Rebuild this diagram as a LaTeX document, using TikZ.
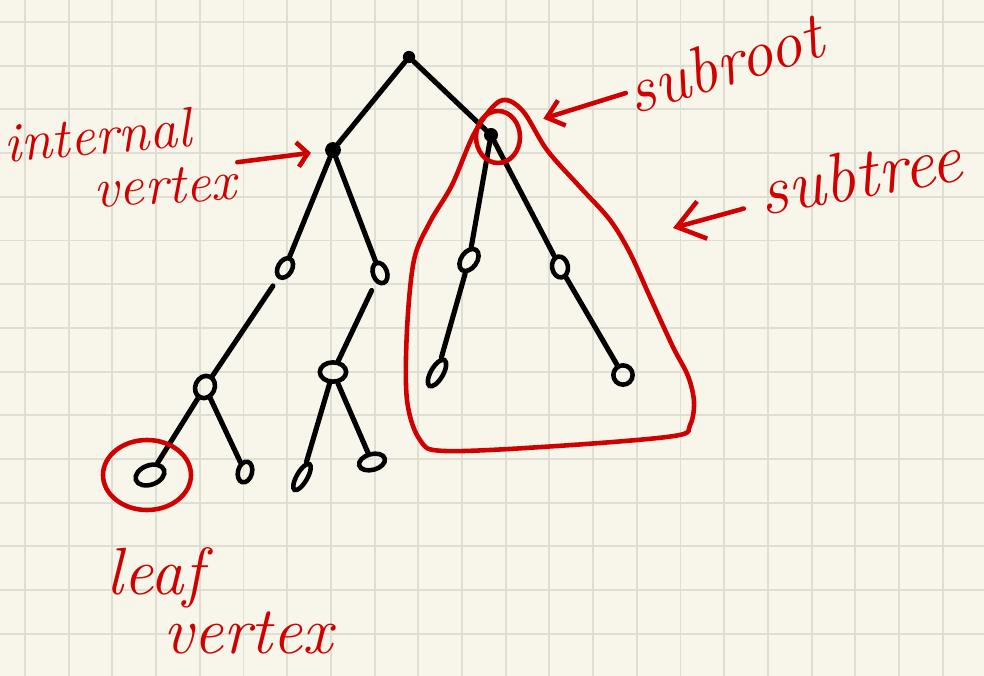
\documentclass[tikz,border=0pt]{standalone}
\usepackage{tikz}
\usetikzlibrary{arrows.meta,shapes.geometric}
\definecolor{paper}{RGB}{248,246,234}
\definecolor{gridc}{RGB}{223,222,210}
\definecolor{pen}{RGB}{208,0,0}
\tikzstyle{inkdot} = [circle, fill=black, inner sep=0pt, minimum size=7pt]
\tikzstyle{loopv} = [ellipse, draw=black, line width=2.6pt, inner sep=0pt,
    minimum width=8pt, minimum height=12pt]
\tikzstyle{ink} = [draw=black, line width=2.9pt, line cap=round]
\tikzstyle{redpen} = [draw=pen, line width=2.6pt, line cap=round, line join=round]
\tikzstyle{note} = [text=pen, inner sep=1pt, font=\fontsize{38}{40}\selectfont\itshape]
\begin{document}
\begin{tikzpicture}[x=0.02cm,y=-0.02cm,>={Straight Barb[length=9pt,width=15pt]}]
  \fill[paper] (0,0) rectangle (984,676);
  \useasboundingbox (0,0) rectangle (984,676);
  \foreach \k in {0,...,21} \draw[gridc, line width=1.1pt] ({25+43.7*\k},0) -- ({25+43.7*\k},676);
  \foreach \k in {0,...,14} \draw[gridc, line width=1.1pt] (0,{22+43.7*\k}) -- (984,{22+43.7*\k});

  % vertices
  \node[inkdot]                    (root) at (409,57)  {};
  \node[inkdot, minimum size=9pt]  (intv) at (333,150) {};
  \node[inkdot, minimum size=8pt]  (subr) at (491,135) {};
  \node[loopv, rotate=-30]         (a1)   at (285,268) {};
  \node[loopv, rotate=20]          (a2)   at (380,273) {};
  \node[loopv, minimum width=11pt, minimum height=13pt, rotate=-25] (c) at (205,387) {};
  \node[loopv, minimum width=15pt, minimum height=11pt] (d) at (333,372) {};
  \node[loopv, minimum width=17pt, minimum height=11pt, rotate=20]  (e) at (150,475) {};
  \node[loopv, rotate=-15]         (f)    at (245,472) {};
  \node[loopv, minimum width=6pt, minimum height=17pt, rotate=-30]  (g) at (302,477) {};
  \node[loopv, minimum width=15pt, minimum height=9pt, rotate=15]   (h) at (372,462) {};
  \node[loopv, minimum width=9pt, minimum height=14pt, rotate=-35]  (b1) at (469,260) {};
  \node[loopv, minimum width=9pt, rotate=10] (b2) at (560,267) {};
  \node[loopv, minimum width=7pt, minimum height=17pt, rotate=-30]  (b1l) at (437,373) {};
  \node[loopv, minimum width=11pt, minimum height=11pt] (b2l) at (623,375) {};

  \path[ink] (root) edge (intv)
             (root) edge (subr)
             (intv) edge (a1)
             (intv) edge (a2)
             (a1) edge[shorten <=5pt] (c)
             (a2) edge[shorten <=5pt] (d)
             (c) edge (e)
             (c) edge (f)
             (d) edge (g)
             (d) edge (h)
             (subr) edge (b1)
             (subr) edge (b2)
             (b1) edge (b1l)
             (b2) edge (b2l);

  % red notes
  \draw[redpen] ([shift={(7,2)}]subr) ellipse [x radius=22, y radius=26];
  \draw[redpen] ([shift={(-3,0)}]e) ellipse [x radius=44, y radius=35];
  \draw[redpen] plot[smooth cycle, tension=0.55] coordinates {(500,101) (522,110) (547,150)
      (580,187) (610,220) (630,253) (650,297) (673,347) (688,376) (694,402) (690,425)
      (674,436) (557,446) (445,451) (420,440) (407,400) (407,330) (414,260) (430,222)
      (452,185) (475,132)};

  \node[note, rotate=5, font=\fontsize{32}{34}\selectfont\itshape] (intl) at (97,135) {internal};
  \node[note, rotate=3, font=\fontsize{32}{34}\selectfont\itshape] (intvl) at (165,186) {vertex};
  \node[note, rotate=17] (srl) at (724,63) {subroot};
  \node[note, rotate=10, font=\fontsize{40}{42}\selectfont\itshape] (stl) at (860,174) {subtree};
  \node[note] (leafl) at (155,578) {leaf};
  \node[note] (leafv) at (248,633) {vertex};
  \coordinate (sttip) at (673,228);

  \draw[redpen, ->, >={Straight Barb[length=6pt,width=14pt]}, shorten >=8pt] (intvl.north east) -- (intv);
  \draw[redpen, ->, shorten >=27pt] (srl.west) -- (subr);
  \draw[redpen, ->, >={Straight Barb[length=15pt,width=22pt]}] ([shift={(-18,-10)}]stl.south west) -- (sttip);
\end{tikzpicture}
\end{document}
